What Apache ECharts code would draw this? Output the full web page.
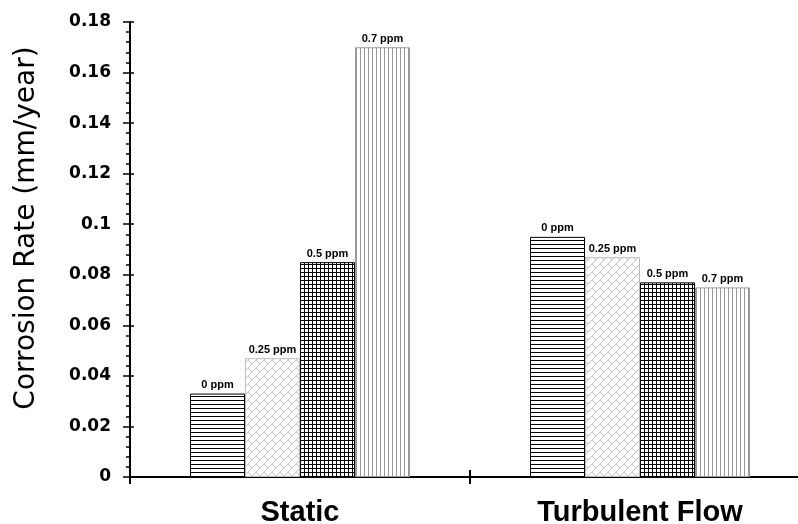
<!DOCTYPE html>
<html>
<head>
<meta charset="utf-8">
<script src="https://cdn.jsdelivr.net/npm/echarts@6/dist/echarts.min.js"></script>
<style>html,body{margin:0;padding:0;background:#fff;overflow:hidden;}#c{width:798px;height:524px;}</style>
</head>
<body>
<div id="c"></div>
<script>
const categories = ['Static', 'Turbulent Flow'];
const seriesNames = ['0 ppm', '0.25 ppm', '0.5 ppm', '0.7 ppm'];
const values0ppm = [0.033, 0.095];
const values025ppm = [0.047, 0.087];
const values05ppm = [0.085, 0.077];
const values07ppm = [0.170, 0.075];
const yMin = 0, yMax = 0.18, yStep = 0.02;

function pat(w, h, draw) {
  const c = document.createElement('canvas');
  c.width = w; c.height = h;
  const g = c.getContext('2d');
  g.fillStyle = '#fff'; g.fillRect(0, 0, w, h);
  draw(g);
  return c;
}
const pHoriz = pat(4, 4, g => { g.fillStyle = '#000'; g.fillRect(0, 0, 4, 1); });
const pDiag = pat(8, 8, g => {
  g.strokeStyle = '#c4c4c4'; g.lineWidth = 1;
  g.beginPath(); g.moveTo(0, 8); g.lineTo(8, 0); g.stroke();
  g.beginPath(); g.moveTo(0, 0); g.lineTo(4, 4); g.stroke();
});
const pGrid = pat(4, 4, g => { g.fillStyle = '#000'; g.fillRect(0, 0, 4, 1); g.fillRect(0, 0, 1, 4); });
const pVert = pat(4, 4, g => { g.fillStyle = '#999'; g.fillRect(0, 0, 1, 4); });

const styles = [
  { color: { image: pHoriz, repeat: 'repeat' }, borderColor: '#000', borderWidth: 1 },
  { color: { image: pDiag, repeat: 'repeat' }, borderColor: '#bbb', borderWidth: 1 },
  { color: { image: pGrid, repeat: 'repeat' }, borderColor: '#000', borderWidth: 1 },
  { color: { image: pVert, repeat: 'repeat' }, borderColor: '#999', borderWidth: 1 }
];
const allValues = [values0ppm, values025ppm, values05ppm, values07ppm];

const chart = echarts.init(document.getElementById('c'), null, { renderer: 'canvas' });
chart.setOption({
  animation: false,
  backgroundColor: '#fff',
  grid: { left: 130, top: 22, width: 680, height: 455, containLabel: false, outerBoundsMode: 'none' },
  xAxis: [{
    type: 'category', data: categories, boundaryGap: true,
    axisLine: { lineStyle: { color: '#000', width: 2 } },
    axisTick: { show: true, length: 7, lineStyle: { color: '#000', width: 2 } },
    axisLabel: { margin: 21, color: '#000', fontFamily: 'Liberation Sans', fontWeight: 'bold', fontSize: 29 },
    splitLine: { show: false }
  }, {
    type: 'category', data: categories, boundaryGap: true, position: 'bottom',
    axisLine: { show: false },
    axisTick: { show: true, inside: true, length: 7, lineStyle: { color: '#000', width: 2 } },
    axisLabel: { show: false }, splitLine: { show: false }
  }],
  yAxis: [{
    type: 'value', min: yMin, max: yMax, interval: yStep, position: 'left',
    axisLine: { show: true, lineStyle: { color: '#000', width: 2 } },
    axisTick: { show: true, length: 7, lineStyle: { color: '#000', width: 1.5 } },
    minorTick: { show: true, splitNumber: 5, length: 4, lineStyle: { color: '#000', width: 1.5 } },
    axisLabel: { margin: 19, color: '#000', fontFamily: 'DejaVu Sans', fontWeight: 'bold', fontSize: 17 },
    splitLine: { show: false }
  }, {
    type: 'value', min: yMin, max: yMax, interval: yStep, position: 'left',
    axisLine: { show: false },
    axisTick: { show: true, inside: true, length: 4, lineStyle: { color: '#000', width: 1.5 } },
    axisLabel: { show: false }, splitLine: { show: false }
  }],
  graphic: [{
    type: 'text', x: 27, y: 228, rotation: Math.PI / 2,
    style: { text: 'Corrosion Rate (mm/year)', fill: '#000', font: '28px "DejaVu Sans"', align: 'center', verticalAlign: 'middle' }
  }],
  series: seriesNames.map((n, i) => ({
    name: n, type: 'bar', xAxisIndex: 0, yAxisIndex: 0,
    data: allValues[i], barWidth: 55, barGap: '0%',
    itemStyle: styles[i],
    label: { show: true, position: 'top', distance: 3, formatter: n, color: '#000', fontFamily: 'Liberation Sans', fontWeight: 'bold', fontSize: 11 }
  }))
});
</script>
</body>
</html>
